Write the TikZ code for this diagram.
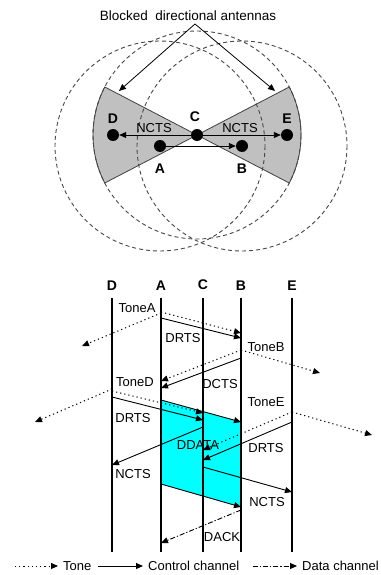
\documentclass[tikz,border=0pt]{standalone}
\usepackage{fontspec}
\setmainfont{Liberation Sans}
\usetikzlibrary{arrows.meta}
\definecolor{beamGray}{RGB}{192,192,192}
\definecolor{rangeGray}{RGB}{70,70,70}
\definecolor{dataCyan}{RGB}{0,255,255}

\tikzset{
  msgLabel/.style={font=\fontsize{13}{15}\selectfont, inner sep=0pt},
  stnLabel/.style={font=\bfseries\fontsize{14}{16}\selectfont, inner sep=0pt},
  legendText/.style={font=\fontsize{13}{15}\selectfont, inner sep=5pt, anchor=west},
  station/.style={circle, fill=black, minimum size=12pt, inner sep=0pt},
  headTip/.style={-{Triangle[length=7pt,width=6pt]}},
  toneArrow/.style={headTip, line width=1pt, dash pattern=on 1.2pt off 3pt},
  ctrlArrow/.style={headTip, line width=0.9pt},
  dataArrow/.style={headTip, line width=0.9pt, dash pattern=on 5pt off 2pt on 1.2pt off 2pt},
  rangeLine/.style={rangeGray, line width=0.9pt, dash pattern=on 4pt off 3pt},
  beam/.style={fill=beamGray, draw=black!75, line width=0.8pt},
  timeLine/.style={line width=1.1pt},
}

\begin{document}
\begin{tikzpicture}[x=1pt, y=-1pt]
  \useasboundingbox (0,0) rectangle (380,575);

  % where the stations sit
  \coordinate (pD) at (113,135);
  \coordinate (pC) at (197,135);
  \coordinate (pE) at (287,135);
  \coordinate (pA) at (160,146);
  \coordinate (pB) at (242,146);

  % the two blocked beams of C
  \filldraw[beam] (pC) -- +(152.5:104) arc[start angle=152.5, end angle=207.5, radius=104] -- cycle;
  \filldraw[beam] (pC) -- +(-27.5:104) arc[start angle=-27.5, end angle=27.5, radius=104] -- cycle;

  % ranges of A, B and C
  \draw[rangeLine] (pA) circle[radius=105];
  \draw[rangeLine] (pB) circle[radius=105];
  \draw[rangeLine] (pC) circle[radius=104];

  \node[station] (D) at (pD) {};
  \node[station] (C) at (pC) {};
  \node[station] (E) at (pE) {};
  \node[station] (A) at (pA) {};
  \node[station] (B) at (pB) {};
  \node[stnLabel] (labD) at (113,119) {D};
  \node[stnLabel] (labC) at (195,117) {C};
  \node[stnLabel] (labE) at (287,119) {E};
  \node[stnLabel] (labA) at (160,169) {A};
  \node[stnLabel] (labB) at (242,169) {B};

  \draw[ctrlArrow] (C) -- (D);
  \draw[ctrlArrow] (C) -- (E);
  \draw[ctrlArrow] (A) -- (B);
  \node[msgLabel] (nctsD) at (154,128) {NCTS};
  \node[msgLabel] (nctsE) at (240,128) {NCTS};

  \node[msgLabel, font=\fontsize{13.5}{15}\selectfont] (title) at (188,16) {Blocked\ \ directional antennas};
  \coordinate (apex) at (195,24);
  \coordinate (beamL) at (119,91);
  \coordinate (beamR) at (275,91);
  \draw[ctrlArrow, line width=0.8pt] (apex) -- (beamL);
  \draw[ctrlArrow, line width=0.8pt] (apex) -- (beamR);

  % time lines
  \node[stnLabel] (tD) at (112,286) {D};
  \node[stnLabel] (tA) at (161,286) {A};
  \node[stnLabel] (tC) at (203,285) {C};
  \node[stnLabel] (tB) at (241,286) {B};
  \node[stnLabel] (tE) at (292,286) {E};

  % data frame A -> B
  \fill[dataCyan] (tA |- 0,400) -- (tB |- 0,422) -- (tB |- 0,507) -- (tA |- 0,484) -- cycle;

  \draw[timeLine] (tD |- 0,298) -- (tD |- 0,552);
  \draw[timeLine] (tA |- 0,298) -- (tA |- 0,552);
  \draw[timeLine] (tC |- 0,298) -- (tC |- 0,552);
  \draw[timeLine] (tB |- 0,298) -- (tB |- 0,552);
  \draw[timeLine] (tE |- 0,298) -- (tE |- 0,552);

  \coordinate (farA) at (82,346);
  \coordinate (farB) at (320,373);
  \coordinate (farD) at (35,422);
  \coordinate (farE) at (372,435);

  % A asks B
  \draw[toneArrow] (tA |- 0,312) -- (tB |- 0,333);
  \draw[toneArrow] (tA |- 0,313) -- (farA);
  \draw[ctrlArrow] (tA |- 0,318) -- (tB |- 0,338);
  \node[msgLabel] (toneA) at (137,308) {ToneA};
  \node[msgLabel] (drtsA) at (183,338) {DRTS};

  % B answers
  \draw[toneArrow] (tB |- 0,350) -- (farB);
  \draw[toneArrow] (tB |- 0,350) -- (tA |- 0,381);
  \draw[ctrlArrow] (tB |- 0,358) -- (tA |- 0,388);
  \node[msgLabel] (toneB) at (266,347) {ToneB};
  \node[msgLabel] (dctsB) at (220,384) {DCTS};

  % D asks C
  \draw[toneArrow] (tD |- 0,389) -- (farD);
  \draw[toneArrow] (tD |- 0,391) -- (tC |- 0,413);
  \draw[ctrlArrow] (tD |- 0,397) -- (tC |- 0,420);
  \node[msgLabel] (toneD) at (135,382) {ToneD};
  \node[msgLabel] (drtsD) at (133,418) {DRTS};

  \draw[ctrlArrow] (tA |- 0,400) -- (tB |- 0,422);
  \draw[ctrlArrow] (tA |- 0,484) -- (tB |- 0,507);

  \draw[ctrlArrow] (tC |- 0,427) -- (tD |- 0,465);
  \node[msgLabel] (nctsCD) at (133,474) {NCTS};

  % E asks C
  \draw[toneArrow] (tE |- 0,412) -- (farE);
  \draw[toneArrow] (tE |- 0,412) -- (tC |- 0,450);
  \draw[ctrlArrow] (tE |- 0,422) -- (tC |- 0,460);
  \node[msgLabel] (toneE) at (266,402) {ToneE};
  \node[msgLabel] (drtsE) at (266,448) {DRTS};

  \draw[ctrlArrow] (tC |- 0,467) -- (tE |- 0,492);
  \node[msgLabel] (nctsCE) at (267,502) {NCTS};

  \node[msgLabel] (ddata) at (198,445) {DDATA};

  \draw[dataArrow] (tB |- 0,510) -- (tA |- 0,543);
  \node[msgLabel] (dack) at (222,537) {DACK};

  % legend
  \node[legendText] (lgTone) at (58,566) {Tone};
  \node[legendText] (lgCtrl) at (143,566) {Control channel};
  \node[legendText] (lgData) at (297,566) {Data channel};
  \coordinate (lgTone0) at (15,566);
  \coordinate (lgCtrl0) at (98,566);
  \coordinate (lgData0) at (253,566);
  \draw[toneArrow] (lgTone0) -- (lgTone.west);
  \draw[ctrlArrow] (lgCtrl0) -- (lgCtrl.west);
  \draw[dataArrow] (lgData0) -- (lgData.west);
\end{tikzpicture}
\end{document}
